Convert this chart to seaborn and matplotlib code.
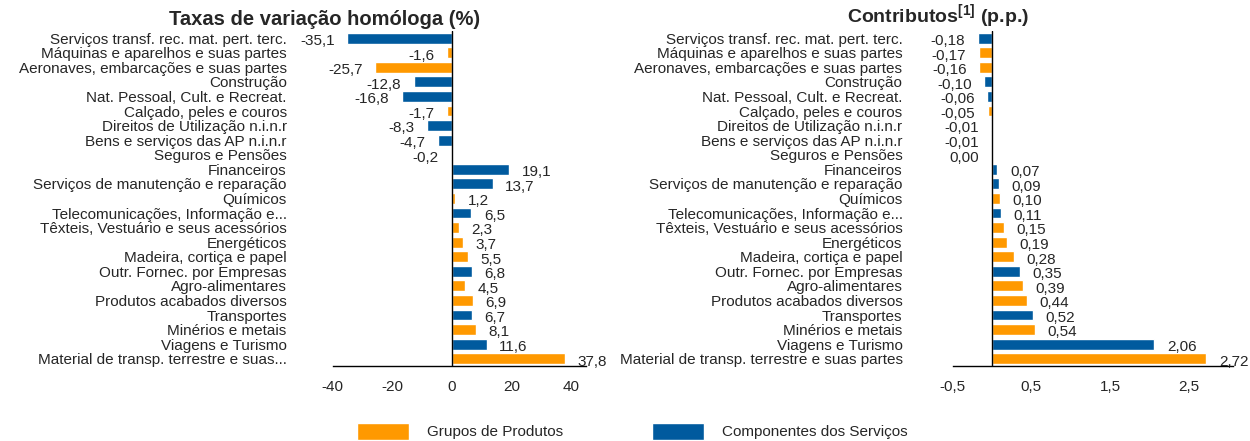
import pandas as pd
import matplotlib
matplotlib.use("Agg")
import matplotlib.pyplot as plt
import seaborn as sns
from matplotlib.patches import Patch

# Categorias (de cima para baixo)
categorias = [
    "Serviços transf. rec. mat. pert. terc.",
    "Máquinas e aparelhos e suas partes",
    "Aeronaves, embarcações e suas partes",
    "Construção",
    "Nat. Pessoal, Cult. e Recreat.",
    "Calçado, peles e couros",
    "Direitos de Utilização n.i.n.r",
    "Bens e serviços das AP n.i.n.r",
    "Seguros e Pensões",
    "Financeiros",
    "Serviços de manutenção e reparação",
    "Químicos",
    "Telecomunicações, Informação e...",
    "Têxteis, Vestuário e seus acessórios",
    "Energéticos",
    "Madeira, cortiça e papel",
    "Outr. Fornec. por Empresas",
    "Agro-alimentares",
    "Produtos acabados diversos",
    "Transportes",
    "Minérios e metais",
    "Viagens e Turismo",
    "Material de transp. terrestre e suas partes",
]
# rótulos do painel esquerdo (um deles truncado)
rotulos_esq = categorias[:-1] + ["Material de transp. terrestre e suas..."]

grupo = ["S", "P", "P", "S", "S", "P", "S", "S", "S", "S", "S", "P",
         "S", "P", "P", "P", "S", "P", "P", "S", "P", "S", "P"]

taxas = [-35.1, -1.6, -25.7, -12.8, -16.8, -1.7, -8.3, -4.7, -0.2, 19.1,
         13.7, 1.2, 6.5, 2.3, 3.7, 5.5, 6.8, 4.5, 6.9, 6.7, 8.1, 11.6, 37.8]

contributos = [-0.18, -0.17, -0.16, -0.10, -0.06, -0.05, -0.01, -0.01, 0.00,
               0.07, 0.09, 0.10, 0.11, 0.15, 0.19, 0.28, 0.35, 0.39, 0.44,
               0.52, 0.54, 2.06, 2.72]

nomes_grupo = {"P": "Grupos de Produtos", "S": "Componentes dos Serviços"}
cores = {"Grupos de Produtos": "#FF9900", "Componentes dos Serviços": "#005A9E"}

df = pd.DataFrame({
    "Categoria": categorias,
    "Grupo": [nomes_grupo[g] for g in grupo],
    "Taxa": taxas,
    "Contributo": contributos,
})

sns.set_style("white")
plt.rcParams["font.family"] = ["Liberation Sans", "DejaVu Sans"]
plt.rcParams["mathtext.fontset"] = "custom"
plt.rcParams["mathtext.rm"] = "Liberation Sans:bold"
plt.rcParams["mathtext.bf"] = "Liberation Sans:bold"

FS = 11

fig = plt.figure(figsize=(12.5, 4.41), dpi=100)
ax1 = fig.add_axes([0.266, 0.170, 0.203, 0.760])
ax2 = fig.add_axes([0.762, 0.170, 0.224, 0.760])


def desenhar(ax, coluna, rotulos, xlim, xticks, xticklabels, fmt, pad):
    sns.barplot(data=df, y="Categoria", x=coluna, hue="Grupo", order=categorias,
                palette=cores, dodge=False, width=0.75, orient="h",
                saturation=1, legend=False, ax=ax)
    ax.set_xlim(*xlim)
    ax.set_ylim(len(categorias) - 0.5, -0.5)
    ax.set_xticks(xticks)
    ax.set_xticklabels(xticklabels, fontsize=FS)
    ax.set_yticks(range(len(categorias)))
    ax.set_yticklabels(rotulos, fontsize=FS)
    ax.tick_params(axis="y", length=0, pad=pad)
    ax.tick_params(axis="x", direction="out", length=4, width=1, color="black", pad=6)
    ax.set_xlabel("")
    ax.set_ylabel("")
    for s in ["top", "right", "left"]:
        ax.spines[s].set_visible(False)
    ax.spines["bottom"].set_color("black")
    ax.spines["bottom"].set_linewidth(1)
    ax.axvline(0, color="black", lw=1, zorder=5)
    for i, v in enumerate(df[coluna]):
        texto = fmt.format(v).replace(".", ",")
        if v < 0 or (v == 0 and coluna == "Contributo"):
            ax.annotate(texto, (v, i), xytext=(-9, -2), textcoords="offset points",
                        ha="right", va="center", fontsize=FS)
        else:
            ax.annotate(texto, (v, i), xytext=(9, -2), textcoords="offset points",
                        ha="left", va="center", fontsize=FS)


desenhar(ax1, "Taxa", rotulos_esq, (-40, 45), [-40, -20, 0, 20, 40],
         ["-40", "-20", "0", "20", "40"], "{:.1f}", 33)
desenhar(ax2, "Contributo", categorias, (-0.5, 3.05), [-0.5, 0.5, 1.5, 2.5],
         ["-0,5", "0,5", "1,5", "2,5"], "{:.2f}", 36)

fig.text(0.26, 0.955, "Taxas de variação homóloga (%)", fontsize=14.5,
         fontweight="bold", ha="center", va="center")
fig.text(0.75, 0.962, r"Contributos$^{\mathbf{[1]}}$ (p.p.)", fontsize=14,
         fontweight="bold", ha="center", va="center")

handles = [Patch(facecolor=cores["Grupos de Produtos"], label="Grupos de Produtos"),
           Patch(facecolor=cores["Componentes dos Serviços"], label="Componentes dos Serviços")]
fig.legend(handles=handles, loc="center", bbox_to_anchor=(0.506, 0.022), ncol=2,
           frameon=False, fontsize=FS, handlelength=3.4, handleheight=1.3,
           handletextpad=1.2, columnspacing=5.8)

fig.savefig("out.png", dpi=100)
